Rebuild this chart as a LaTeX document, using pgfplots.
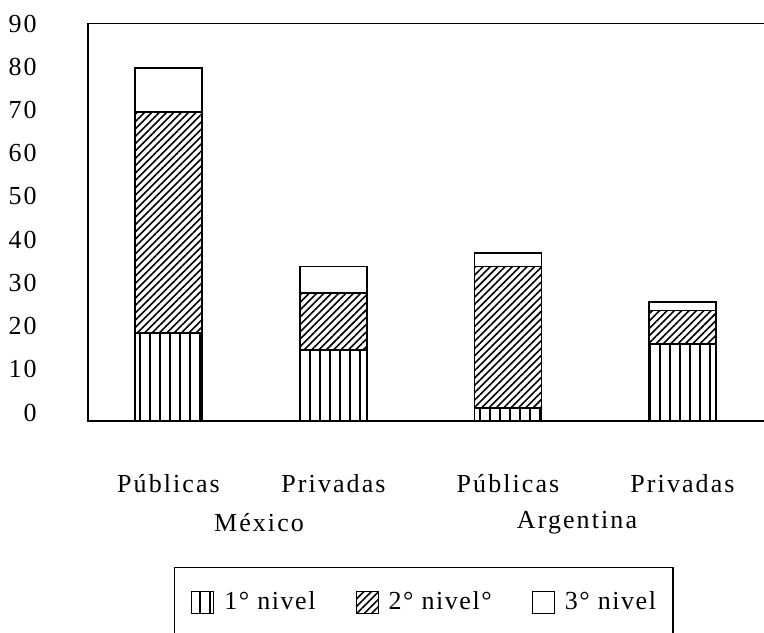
\documentclass[border=0pt]{standalone}
\usepackage{fontspec}
\setmainfont{Liberation Serif}[LetterSpace=8]
\usepackage{pgfplots}
\pgfplotsset{compat=1.18}
\usetikzlibrary{patterns.meta}
\pgfplotsset{sqlegend/.style={legend image code/.code={\draw[##1, line width=0.5pt] (0pt,-5.5pt) rectangle (11pt,5.5pt);}}}

\begin{document}
\fontsize{13}{15}\selectfont
\begin{tikzpicture}[x=1pt,y=1pt]
\useasboundingbox (0,0) rectangle (382,316);
\begin{axis}[
  at={(44pt,105.5pt)}, anchor=south west,
  scale only axis, width=351pt, height=198.75pt,
  xmin=88, xmax=790, ymin=0, ymax=90,
  ybar stacked, bar width=33.5pt,
  xtick={168.5,333.5,508,682.5},
  xticklabels={Públicas,Privadas,Públicas,Privadas},
  ytick={0,10,...,90},
  major tick length=0pt,
  axis line style={line width=0.8pt},
  /pgf/number format/assume math mode=true,
  yticklabel style={anchor=east, inner sep=0pt, xshift=-25.5pt, yshift={(4.25-0.4722*\ticknum)*1pt}},
  xticklabel style={anchor=north, inner sep=0pt, yshift=-26.5pt},
  clip=false,
  legend columns=3,
  legend style={draw=black, line width=0.6pt,
    at={(axis description cs:0.1221,-0.3673)}, anchor=north west,
    inner xsep=8.5pt, inner ysep=11.5pt,
    font=\addfontfeature{LetterSpace=6},
    nodes={inner sep=0pt, anchor=west},
    /tikz/every odd column/.append style={column sep=5pt},
    /tikz/every even column/.append style={column sep=20pt}},
  legend cell align=left,
]
\addplot+[draw=black, line width=0.9pt,
  pattern={Lines[angle=90,distance=5pt,line width=0.6pt]}, sqlegend]
  coordinates {(168.5,20) (333.5,16) (508,3) (682.5,17.5)};
\addplot+[draw=black, line width=0.9pt,
  pattern={Lines[angle=45,distance=2.6pt,line width=0.8pt]}, sqlegend]
  coordinates {(168.5,50) (333.5,13) (508,32) (682.5,7.5)};
\addplot+[draw=black, fill=white, line width=0.9pt, sqlegend]
  coordinates {(168.5,10) (333.5,6) (508,3) (682.5,2)};
\legend{1° nivel, 2° nivel°, 3° nivel\hspace{5pt}}
\node at (axis cs:259,-23.1) {México};
\node at (axis cs:577,-23.1) {Argentina};
\end{axis}
\end{tikzpicture}
\end{document}
